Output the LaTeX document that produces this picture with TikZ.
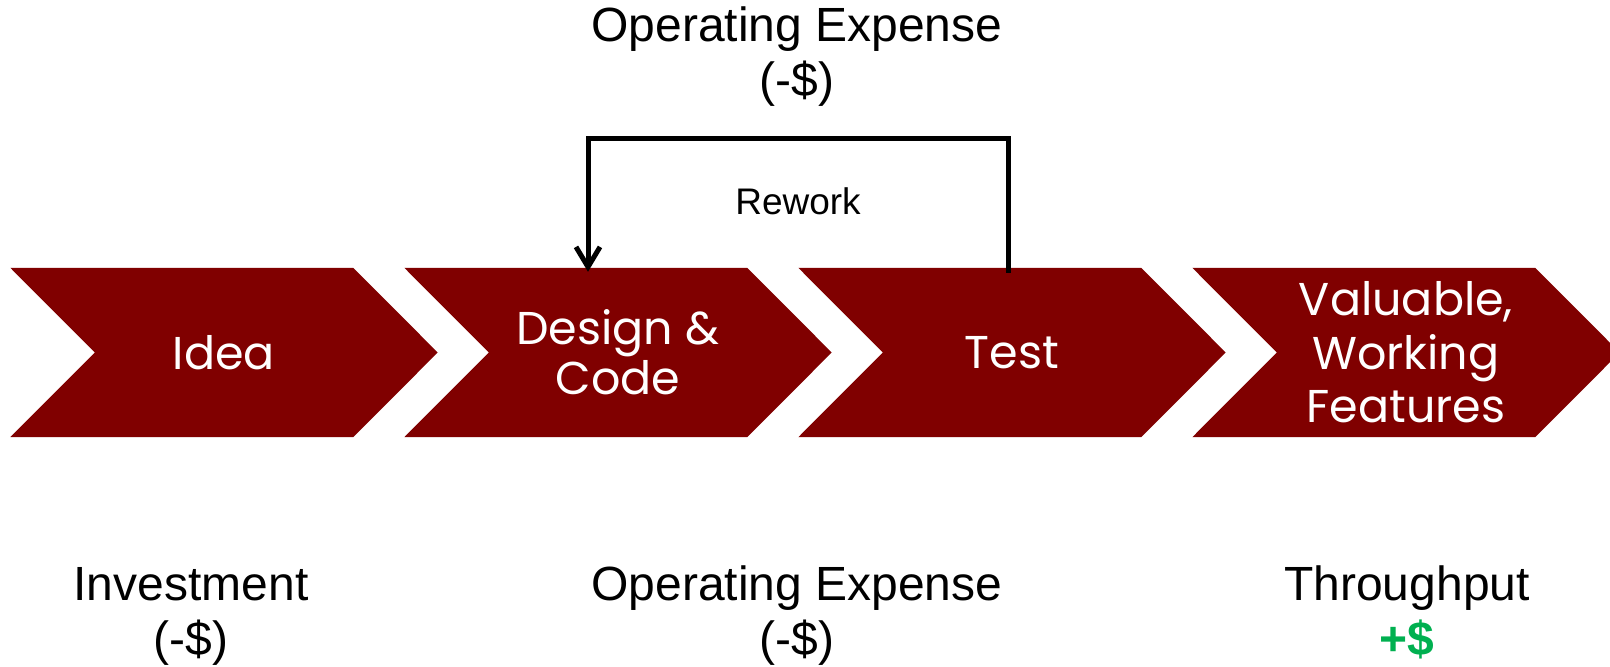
\documentclass[tikz,border=0pt]{standalone}
\usepackage{fontspec}
\setmainfont{Liberation Sans}
\newfontfamily\stagefont{Poppins}
\usetikzlibrary{arrows.meta,backgrounds}
\definecolor{stagered}{RGB}{128,0,0}
\definecolor{gaingreen}{RGB}{0,176,80}
\tikzset{
  stagebox/.style={minimum width=258pt, minimum height=169pt, inner sep=0pt,
    text=white, align=center},
  chevron/.style={fill=stagered, draw=none},
  caption/.style={align=center, inner sep=0pt, anchor=base,
    font=\fontsize{48}{55}\selectfont},
  rework/.style={line width=5pt, line join=miter,
    -{Straight Barb[length=20pt, width=24pt]}},
}
\begin{document}
\begin{tikzpicture}[x=1pt, y=1pt]
\useasboundingbox (0,0) rectangle (1610,667);

% text areas of the four stages
\node[stagebox, font=\stagefont\fontsize{46}{53}\selectfont] (idea) at (224,314.5) {Idea};
\node[stagebox, font=\stagefont\fontsize{46}{50}\selectfont] (design) at (618,314.5) {Design \&\\Code};
\node[stagebox, font=\stagefont\fontsize{46}{53}\selectfont] (test) at (1012,314.5) {Test};
\node[stagebox, font=\stagefont\fontsize{46}{53.5}\selectfont] (value) at (1406,314.5) {Valuable,\\Working\\Features};

% chevron outlines behind each stage
\begin{scope}[on background layer]
\foreach \s in {idea,design,test,value}{
  \fill[chevron] ([xshift=-84.5pt]\s.north west) -- (\s.north east)
    -- ([xshift=84.5pt]\s.east) -- (\s.south east)
    -- ([xshift=-84.5pt]\s.south west) -- (\s.west) -- cycle;
}
\end{scope}

% rework loop from test back to design
\draw[rework] ([xshift=-4pt,yshift=-5pt]test.north) -- ++(0,134)
  -| ([xshift=-30pt,yshift=-4pt]design.north);
\node[anchor=base, inner sep=0pt, font=\fontsize{37}{42}\selectfont] (reworklbl) at (798,452) {Rework};

% cost captions (anchored at the baseline of their last line)
\node[caption] (opextop) at (797,570) {Operating Expense\\(-\$)};
\node[caption] (invest) at (191,12) {Investment\\(-\$)};
\node[caption] (opexbot) at (797,12) {Operating Expense\\(-\$)};
\node[caption] (thru) at (1407,12) {Throughput\\{\color{gaingreen}\bfseries +\$}};
\end{tikzpicture}
\end{document}
